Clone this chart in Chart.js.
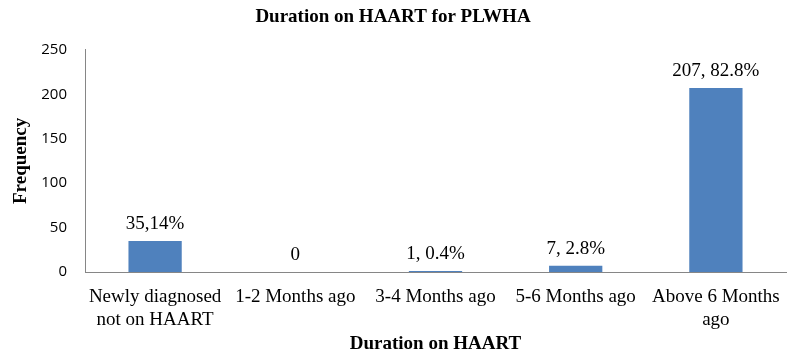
<!DOCTYPE html>
<html>
<head>
<meta charset="utf-8">
<script src="https://cdn.jsdelivr.net/npm/chart.js@4"></script>
<style>
  body { margin: 0; background: #fff; }
</style>
</head>
<body>
<canvas id="myChart" width="800" height="363"></canvas>
<script>
const categories = [
  ['Newly diagnosed', 'not on HAART'],
  '1-2 Months ago',
  '3-4 Months ago',
  '5-6 Months ago',
  ['Above 6 Months', 'ago']
];
const frequency = [35, 0, 1, 7, 207];
const barLabels = ['35,14%', '0', '1, 0.4%', '7, 2.8%', '207, 82.8%'];

const serif = '"Liberation Serif", "Times New Roman", serif';

// draws the value text above each bar
const valueLabels = {
  id: 'valueLabels',
  afterDatasetsDraw(chart) {
    const ctx = chart.ctx;
    const meta = chart.getDatasetMeta(0);
    ctx.save();
    ctx.font = '19px ' + serif;
    ctx.fillStyle = '#000';
    ctx.textAlign = 'center';
    ctx.textBaseline = 'alphabetic';
    meta.data.forEach((bar, i) => {
      ctx.fillText(barLabels[i], bar.x, bar.y - 12);
    });
    ctx.restore();
  }
};

new Chart(document.getElementById('myChart'), {
  type: 'bar',
  data: {
    labels: categories,
    datasets: [{
      label: 'Frequency',
      data: frequency,
      backgroundColor: '#4F81BD',
      categoryPercentage: 1,
      barPercentage: 0.38
    }]
  },
  options: {
    responsive: false,
    animation: false,
    layout: { padding: { left: 0, right: 14, top: 0, bottom: 0 } },
    plugins: {
      legend: { display: false },
      tooltip: { enabled: false },
      title: {
        display: true,
        text: 'Duration on HAART for PLWHA',
        color: '#000',
        font: { family: serif, size: 19, weight: 'bold' },
        padding: { top: 6, bottom: 21 }
      }
    },
    scales: {
      x: {
        grid: { display: false },
        border: { display: true, color: '#868686', width: 1 },
        ticks: {
          color: '#000',
          font: { family: serif, size: 19 },
          padding: 6,
          maxRotation: 0,
          autoSkip: false
        },
        title: {
          display: true,
          text: 'Duration on HAART',
          color: '#000',
          font: { family: serif, size: 19, weight: 'bold' },
          padding: { bottom: 8 }
        },
        afterFit(scale) { scale.height = 91; }
      },
      y: {
        min: 0,
        max: 250,
        grid: { display: false },
        border: { display: true, color: '#868686', width: 1 },
        ticks: {
          stepSize: 50,
          color: '#000',
          font: { family: '"Open Sans", sans-serif', size: 15 },
          padding: 10
        },
        title: {
          display: true,
          text: 'Frequency',
          color: '#000',
          font: { family: serif, size: 19, weight: 'bold' },
          padding: { top: 10 }
        },
        afterFit(scale) { scale.width = 85; }
      }
    }
  },
  plugins: [valueLabels]
});
</script>
</body>
</html>
